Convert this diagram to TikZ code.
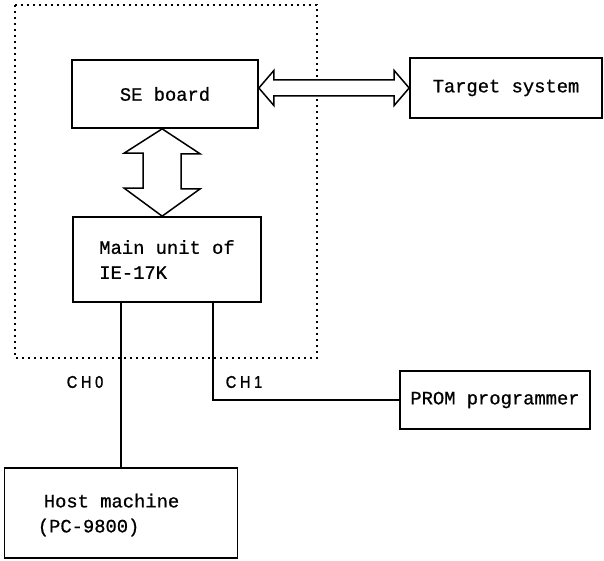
\documentclass[tikz,border=0pt]{standalone}
\usepackage{fontspec}
\newfontfamily\boxfont[FakeBold=0.8, WordSpace={1,0,0}]{Liberation Mono}
\newfontfamily\chfont[LetterSpace=22, FakeStretch=0.85, FakeBold=1.5]{Liberation Sans}
\usetikzlibrary{calc}
\tikzset{
  blk/.style={draw, line width=1.7pt, rectangle, font=\boxfont\fontsize{18.8}{25}\selectfont, inner sep=0pt},
  txt/.style={font=\boxfont\fontsize{18.8}{25}\selectfont, inner sep=0pt, align=left},
  conn/.style={line width=1.5pt},
  fat/.style={draw, line width=1.5pt, fill=white, line join=miter},
  ch/.style={font=\chfont\fontsize{17}{18}\selectfont, inner sep=0pt},
  encl/.style={line width=2pt, dash pattern=on 2pt off 4pt}
}
\begin{document}
\begin{tikzpicture}[x=1pt,y=-1pt]
\useasboundingbox (0,0) rectangle (604,561);
% enclosure
\draw[encl] (15,5) rectangle (317,358);
% boxes
\node[blk, minimum width=186, minimum height=68] (se) at (165,94) {SE board};
\node[blk, minimum width=188, minimum height=85, align=left] (main) at (167,259.5) {Main unit of\\IE-17K};
\node[blk, minimum width=192, minimum height=60] (tgt) at (506,88) {Target system};
\node[blk, minimum width=190, minimum height=58] (prom) at (495,400) {PROM programmer};
\node[blk, minimum width=233, minimum height=90] (host) at (121,513) {};
\node[txt, anchor=west] (hosttxt) at ($(host.west)+(40,2)$) {Host machine\\\hspace*{-6pt}(PC-9800)};
% vertical block arrow
\coordinate (vt) at ($(se.south west)+(91,0)$);
\coordinate (vb) at ($(main.north west)+(90,0)$);
\draw[fat] (vt) -- ++(38,25) -- ++(-19,0) -- ++(0,35) -- ++(19,0) -- (vb)
  -- ++(-38,-28) -- ++(19,0) -- ++(0,-35) -- ++(-19,0) -- cycle;
% horizontal block arrow
\coordinate (hl) at (se.east |- tgt.west);
\coordinate (hr) at (tgt.west);
\draw[fat] (hl) -- ++(15,-17.5) -- ++(0,9.5) -- ($(hr)+(-15,-8)$) -- ++(0,-9.5) -- (hr)
  -- ++(-15,17.5) -- ++(0,-9.5) -- ($(hl)+(15,8)$) -- ++(0,9.5) -- cycle;
% channels
\coordinate (c0) at (host.north |- main.south);
\coordinate (c1) at ($(main.south west)+(141,0)$);
\draw[conn] (c0) -- (host.north);
\draw[conn] (c1) |- (prom.west);
\node[ch] (ch0) at (85,382) {CH0};
\node[ch] (ch1) at (244,382) {CH1};
\end{tikzpicture}
\end{document}
